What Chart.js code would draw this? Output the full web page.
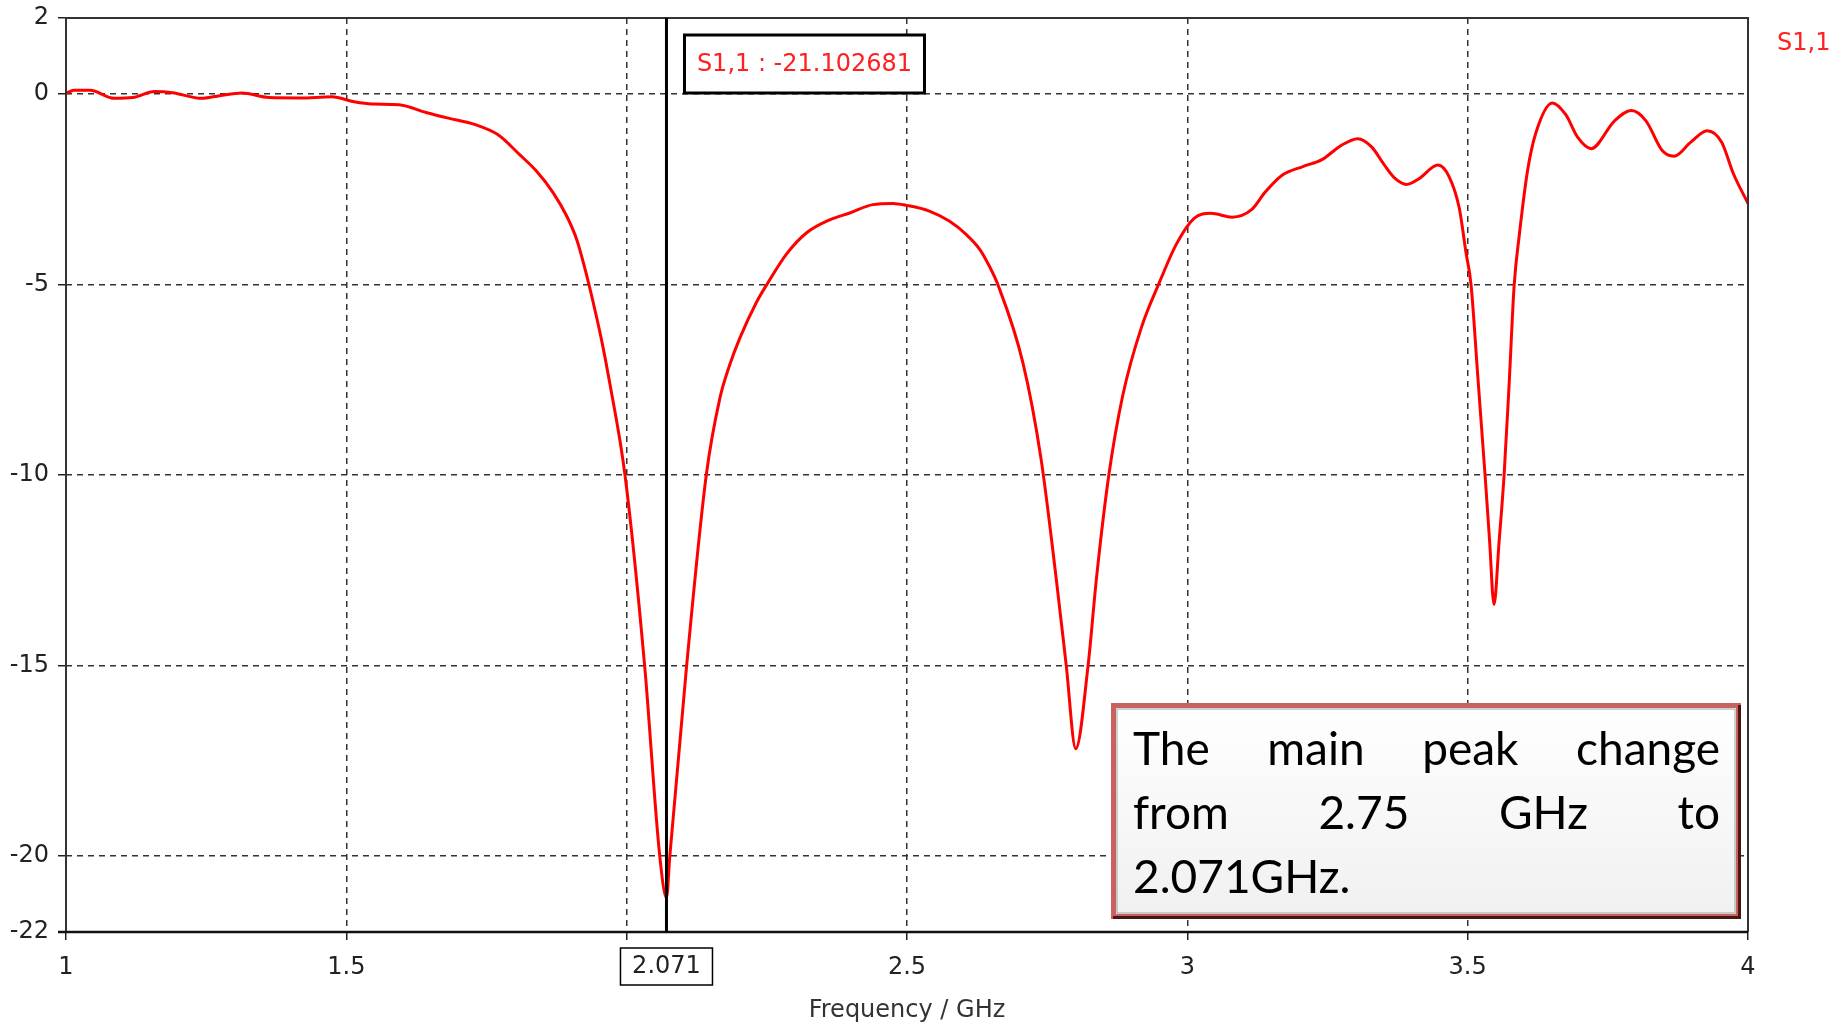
<!DOCTYPE html>
<html>
<head>
<meta charset="utf-8">
<script src="https://cdn.jsdelivr.net/npm/chart.js@4.4.1/dist/chart.umd.min.js"></script>
<style>
  body { margin: 0; background: #fff; }
  #wrap { width: 1843px; height: 1027px; }
</style>
</head>
<body>
<div id="wrap"><canvas id="grafico" width="1843" height="1027"></canvas></div>
<script>
// S1,1
var freq = [1.000, 1.014, 1.043, 1.086, 1.119, 1.158, 1.190, 1.242, 1.274, 1.314, 1.362, 1.418, 1.474,
  1.514, 1.546, 1.594, 1.642, 1.682, 1.730, 1.770, 1.810, 1.839, 1.869, 1.893, 1.911, 1.925, 1.940,
  1.955, 1.970, 1.997, 2.032, 2.059, 2.071, 2.077, 2.107, 2.142, 2.166, 2.184, 2.202, 2.232, 2.252,
  2.285, 2.321, 2.362, 2.398, 2.439, 2.475, 2.499, 2.540, 2.576, 2.606, 2.630, 2.647, 2.662, 2.707,
  2.739, 2.766, 2.784, 2.801, 2.823, 2.838, 2.860, 2.885, 2.918, 2.950, 2.980, 3.012, 3.042, 3.080,
  3.114, 3.139, 3.169, 3.206, 3.240, 3.274, 3.304, 3.329, 3.350, 3.371, 3.391, 3.413, 3.447, 3.467,
  3.485, 3.497, 3.506, 3.518, 3.531, 3.539, 3.547, 3.556, 3.565, 3.574, 3.583, 3.592, 3.607, 3.622,
  3.651, 3.675, 3.696, 3.720, 3.762, 3.792, 3.818, 3.847, 3.868, 3.898, 3.927, 3.953, 3.974, 4.000];
var s11 = [0.02, 0.10, 0.10, -0.11, -0.09, 0.07, 0.04, -0.11, -0.04, 0.03, -0.09, -0.10, -0.07,
  -0.20, -0.26, -0.28, -0.48, -0.63, -0.80, -1.06, -1.60, -2.02, -2.59, -3.20, -3.82, -4.55, -5.45,
  -6.44, -7.60, -10.0, -15.0, -20.0, -21.10, -20.0, -15.0, -10.0, -8.00, -7.10, -6.40, -5.45, -4.95,
  -4.20, -3.64, -3.30, -3.12, -2.90, -2.87, -2.92, -3.07, -3.34, -3.69, -4.08, -4.52, -5.00, -7.07,
  -9.57, -12.7, -15.0, -17.19, -15.0, -12.7, -10.0, -7.90, -6.13, -4.95, -3.95, -3.26, -3.13, -3.23,
  -3.04, -2.57, -2.13, -1.90, -1.72, -1.35, -1.17, -1.39, -1.83, -2.22, -2.37, -2.22, -1.86, -2.17,
  -2.99, -4.16, -5.00, -7.40, -10.0, -11.7, -13.4, -11.76, -10.0, -7.60, -5.00, -3.71, -1.99, -1.00,
  -0.23, -0.54, -1.13, -1.43, -0.70, -0.43, -0.70, -1.48, -1.63, -1.26, -0.96, -1.26, -2.09, -2.87];

var xTicks = [1, 1.5, 2, 2.5, 3, 3.5, 4];
var xTickLabels = ['1', '1.5', '', '2.5', '3', '3.5', '4'];
var yTicks = [-22, -20, -15, -10, -5, 0, 2];

var markerFreq = 2.071;
var markerText = 'S1,1 : -21.102681';
var markerTickLabel = '2.071';
var legendText = 'S1,1';
var noteLines = [['The', 'main', 'peak', 'change'], ['from', '2.75', 'GHz', 'to'], ['2.071GHz.']];

var pontos = [];
for (var i = 0; i < freq.length; i++) {
  pontos.push({ x: freq[i], y: s11[i] });
}

Chart.defaults.font.family = 'DejaVu Sans';
Chart.defaults.font.size = 24;
Chart.defaults.color = '#222';

// grid lines on the frame edges are drawn by the frame itself
var gridCor = function (ctx) {
  var n = ctx.scale.ticks.length;
  return (ctx.index === 0 || ctx.index === n - 1) ? 'rgba(0,0,0,0)' : '#333';
};

// frame, marker line, boxes and note
var extras = {
  id: 'extras',
  afterDatasetsDraw: function (chart) {
    var c = chart.ctx, a = chart.chartArea;
    var xs = chart.scales.x;
    c.save();
    c.setLineDash([]);
    // plot frame
    c.lineWidth = 2;
    c.strokeStyle = '#333';
    c.beginPath();
    c.moveTo(a.left, a.bottom); c.lineTo(a.left, a.top); c.lineTo(a.right, a.top); c.lineTo(a.right, a.bottom);
    c.stroke();
    c.lineWidth = 2.5;
    c.strokeStyle = '#111';
    c.beginPath(); c.moveTo(a.left - 8, a.bottom); c.lineTo(a.right, a.bottom); c.stroke();

    // marker line
    var mx = xs.getPixelForValue(markerFreq);
    c.lineWidth = 3;
    c.strokeStyle = '#000';
    c.beginPath(); c.moveTo(mx, a.top); c.lineTo(mx, a.bottom); c.stroke();

    // marker value box
    c.fillStyle = '#fff';
    c.fillRect(mx + 18, 35, 240, 58);
    c.lineWidth = 3;
    c.strokeStyle = '#000';
    c.strokeRect(mx + 18, 35, 240, 58);
    c.font = '24px "DejaVu Sans"';
    c.fillStyle = '#ff2020';
    c.textAlign = 'center';
    c.textBaseline = 'middle';
    c.fillText(markerText, mx + 138, 65);

    // marker tick label
    c.fillStyle = '#fff';
    c.fillRect(mx - 46, 948, 92, 37);
    c.lineWidth = 1.5;
    c.strokeStyle = '#000';
    c.strokeRect(mx - 46, 948, 92, 37);
    c.fillStyle = '#222';
    c.fillText(markerTickLabel, mx, 967);

    // legend text
    c.fillStyle = '#ff2020';
    c.textAlign = 'left';
    c.fillText(legendText, 1777, 44);

    // note box
    var bx = 1111, by = 703, bw = 630, bh = 216;
    var g = c.createLinearGradient(0, by, 0, by + bh);
    g.addColorStop(0, '#ffffff');
    g.addColorStop(1, '#f0f0f0');
    c.fillStyle = g;
    c.fillRect(bx, by, bw, bh);
    c.lineWidth = 5;
    c.strokeStyle = '#c9625e';
    c.strokeRect(bx + 2.5, by + 2.5, bw - 5, bh - 5);
    c.lineWidth = 3;
    c.strokeStyle = '#4a1414';
    c.beginPath(); c.moveTo(bx + bw - 1.5, by + 2); c.lineTo(bx + bw - 1.5, by + bh - 1.5); c.lineTo(bx + 2, by + bh - 1.5); c.stroke();
    c.lineWidth = 1;
    c.strokeStyle = '#a0a0a0';
    c.strokeRect(bx + 6, by + 6, bw - 12, bh - 12);

    c.font = '46px Lato';
    c.fillStyle = '#000';
    c.textBaseline = 'alphabetic';
    c.textAlign = 'left';
    var left = 1133, right = 1720, base = [765, 829, 893];
    for (var l = 0; l < noteLines.length; l++) {
      var words = noteLines[l];
      if (l === noteLines.length - 1) {
        c.fillText(words.join(' '), left, base[l]);
        continue;
      }
      var total = 0;
      for (var w = 0; w < words.length; w++) total += c.measureText(words[w]).width;
      var gap = (right - left - total) / (words.length - 1);
      var px = left;
      for (var w = 0; w < words.length; w++) {
        c.fillText(words[w], px, base[l]);
        px += c.measureText(words[w]).width + gap;
      }
    }
    c.restore();
  }
};

var grafico = new Chart(document.getElementById('grafico'), {
  type: 'line',
  data: {
    datasets: [{
      label: 'S1,1',
      data: pontos,
      borderColor: '#ff0000',
      borderWidth: 3,
      pointRadius: 0,
      fill: false,
      cubicInterpolationMode: 'monotone'
    }]
  },
  options: {
    responsive: false,
    animation: false,
    layout: { padding: { left: 0, top: 18, right: 95, bottom: 0 } },
    plugins: { legend: { display: false }, tooltip: { enabled: false } },
    scales: {
      x: {
        type: 'linear',
        min: 1,
        max: 4,
        afterBuildTicks: function (s) { s.ticks = xTicks.map(function (v) { return { value: v }; }); },
        afterFit: function (s) { s.height = 95; s.paddingLeft = 0; s.paddingRight = 0; },
        ticks: {
          padding: 13,
          maxRotation: 0,
          callback: function (v) { var k = xTicks.indexOf(v); return k < 0 ? '' : xTickLabels[k]; }
        },
        grid: { color: gridCor, lineWidth: 1.5, tickLength: 8, tickColor: '#222', tickWidth: 1.5 },
        border: { display: false, dash: [6, 5] },
        title: { display: true, text: 'Frequency / GHz', color: '#333', padding: { top: 0, bottom: 2 } }
      },
      y: {
        min: -22,
        max: 2,
        afterBuildTicks: function (s) { s.ticks = yTicks.map(function (v) { return { value: v }; }); },
        afterFit: function (s) { s.width = 66; s.paddingTop = 0; s.paddingBottom = 0; },
        ticks: { padding: 9 },
        grid: { color: gridCor, lineWidth: 1.5, tickLength: 8, tickColor: '#222', tickWidth: 1.5 },
        border: { display: false, dash: [6, 5] }
      }
    }
  },
  plugins: [extras]
});
</script>
</body>
</html>
